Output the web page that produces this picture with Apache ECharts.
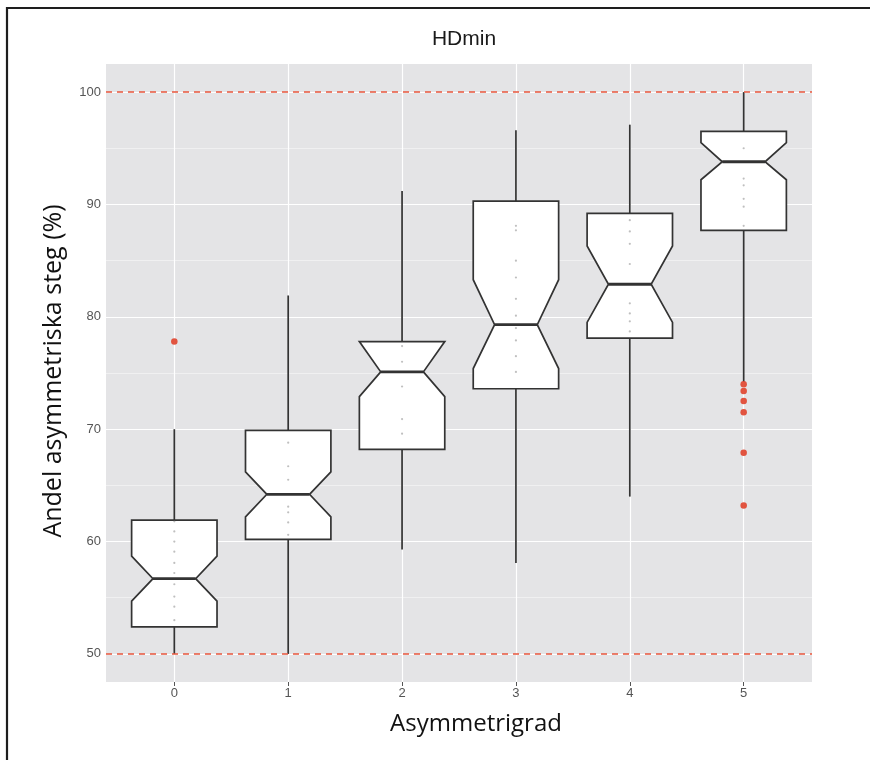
<!DOCTYPE html>
<html>
<head>
<meta charset="utf-8">
<script src="https://cdn.jsdelivr.net/npm/echarts@6/dist/echarts.min.js"></script>
<style>html,body{margin:0;padding:0;background:#fff}#c{width:870px;height:760px}</style>
</head>
<body>
<div id="c"></div>
<script>
// ---- data ----
const categories = ['0', '1', '2', '3', '4', '5'];
const lowerWhisker = [50.0, 50.0, 59.3, 58.1, 64.0, 74.2];
const q1 = [52.4, 60.2, 68.2, 73.6, 78.1, 87.7];
const notchLow = [54.7, 62.2, 72.9, 75.4, 79.5, 92.2];
const median = [56.7, 64.2, 75.1, 79.3, 82.9, 93.8];
const notchHigh = [58.7, 66.2, 77.8, 83.3, 86.3, 95.5];
const q3 = [61.9, 69.9, 77.8, 90.3, 89.2, 96.5];
const upperWhisker = [70.0, 81.9, 91.2, 96.6, 97.1, 100.0];
const outlierCat = [0, 5, 5, 5, 5, 5, 5];
const outlierVal = [77.8, 74.0, 73.4, 72.5, 71.5, 67.9, 63.2];
// faint jittered observations drawn inside the boxes
const innerCat = [0,0,0,0,0,0,0,0,0,0, 1,1,1,1,1,1,1, 2,2,2,2,2, 3,3,3,3,3,3,3,3,3,3, 4,4,4,4,4,4,4,4, 5,5,5,5,5,5];
const innerVal = [61.8,60.9,60.0,59.1,58.1,57.2,56.2,55.1,54.2,53.0,
                  68.8,66.7,65.5,63.1,62.6,61.7,60.6,
                  77.4,76.0,73.8,70.9,69.6,
                  88.1,87.7,85.0,83.5,81.6,80.1,77.9,76.5,75.1,79.0,
                  88.6,87.6,86.5,84.7,81.2,80.3,79.6,78.7,
                  95.0,92.3,91.7,90.5,89.8,88.1];
const yMajorTicks = [50, 60, 70, 80, 90, 100];
const yMinorTicks = [55, 65, 75, 85, 95];
const refLines = [50, 100];
const xTicks = [0, 1, 2, 3, 4, 5];

const boxData = categories.map((c, i) => [i, lowerWhisker[i], q1[i], notchLow[i], median[i], notchHigh[i], q3[i], upperWhisker[i]]);
const outlierData = outlierCat.map((c, i) => [c, outlierVal[i]]);
const innerData = innerCat.map((c, i) => [c, innerVal[i]]);

const chart = echarts.init(document.getElementById('c'), null, {renderer: 'canvas'});

function renderBox(params, api) {
  const x = api.value(0);
  const vLow = api.value(1), vQ1 = api.value(2), vNL = api.value(3), vMed = api.value(4),
        vNH = api.value(5), vQ3 = api.value(6), vHigh = api.value(7);
  const half = api.size([0.75, 0])[0] / 2;
  const inset = half / 2;
  const cx = api.coord([x, vMed])[0];
  const y = v => api.coord([x, v])[1];
  const L = cx - half, R = cx + half;
  const stroke = '#333333';
  return {
    type: 'group',
    children: [
      {type: 'line', shape: {x1: cx, y1: y(vQ3), x2: cx, y2: y(vHigh)}, style: {stroke: stroke, lineWidth: 1.7}},
      {type: 'line', shape: {x1: cx, y1: y(vQ1), x2: cx, y2: y(vLow)}, style: {stroke: stroke, lineWidth: 1.7}},
      {type: 'polygon', shape: {points: [
        [L, y(vQ3)], [R, y(vQ3)], [R, y(vNH)], [R - inset, y(vMed)], [R, y(vNL)], [R, y(vQ1)],
        [L, y(vQ1)], [L, y(vNL)], [L + inset, y(vMed)], [L, y(vNH)]
      ]}, style: {fill: '#ffffff', stroke: stroke, lineWidth: 1.7, lineJoin: 'miter'}},
      {type: 'line', shape: {x1: L + inset, y1: y(vMed), x2: R - inset, y2: y(vMed)}, style: {stroke: stroke, lineWidth: 2.8}}
    ]
  };
}

const gridLines = [];
yMajorTicks.forEach(v => gridLines.push({yAxis: v, lineStyle: {color: '#ffffff', width: 1.2, type: 'solid'}}));
yMinorTicks.forEach(v => gridLines.push({yAxis: v, lineStyle: {color: '#f2f2f4', width: 0.8, type: 'solid'}}));
xTicks.forEach(v => gridLines.push({xAxis: v, lineStyle: {color: '#ffffff', width: 1.2, type: 'solid'}}));

const option = {
  animation: false,
  backgroundColor: '#ffffff',
  title: {
    text: 'HDmin', left: 459, top: 24, textAlign: 'center',
    textStyle: {fontFamily: 'Liberation Sans', fontSize: 21, fontWeight: 'normal', color: '#1a1a1a'}
  },
  grid: {left: 106, right: 58, top: 64, bottom: 78, show: true, backgroundColor: '#e4e4e6', borderWidth: 0},
  xAxis: {
    type: 'value', min: -0.6, max: 5.6,
    axisLine: {show: false},
    axisTick: {show: true, length: 4, lineStyle: {color: '#555555', width: 1}, customValues: xTicks},
    axisLabel: {show: true, customValues: xTicks, formatter: v => categories[Math.round(v)], color: '#555555', fontFamily: 'Liberation Sans', fontSize: 13, margin: 5},
    splitLine: {show: false}
  },
  yAxis: {
    type: 'value', min: 47.5, max: 102.5,
    axisLine: {show: false},
    axisTick: {show: true, length: 4, lineStyle: {color: '#555555', width: 1}, customValues: yMajorTicks},
    axisLabel: {show: true, customValues: yMajorTicks, color: '#555555', fontFamily: 'Liberation Sans', fontSize: 13, margin: 5},
    splitLine: {show: false}
  },
  graphic: [
    {type: 'rect', shape: {x: 7, y: 8, width: 900, height: 800}, style: {fill: 'none', stroke: '#1e1e1e', lineWidth: 2.2}, silent: true},
    {type: 'text', x: 54, y: 371, rotation: Math.PI / 2, style: {text: 'Andel asymmetriska steg (%)', font: '25px "Open Sans"', fill: '#111111', textAlign: 'center', textVerticalAlign: 'middle'}},
    {type: 'text', x: 476, y: 724, style: {text: 'Asymmetrigrad', font: '24px "Open Sans"', fill: '#111111', textAlign: 'center', textVerticalAlign: 'middle'}}
  ],
  series: [
    {
      name: 'grid', type: 'scatter', data: [], z: 1, silent: true,
      markLine: {z: 1, silent: true, symbol: ['none', 'none'], label: {show: false}, animation: false, data: gridLines}
    },
    {
      name: 'boxes', type: 'custom', renderItem: renderBox, data: boxData, z: 3,
      encode: {x: 0, y: [1, 2, 3, 4, 5, 6, 7]}
    },
    {
      name: 'inner', type: 'scatter', data: innerData, z: 4, symbolSize: 2.2, silent: true,
      itemStyle: {color: 'rgba(110,110,110,0.55)'}
    },
    {
      name: 'ref', type: 'scatter', data: [], z: 5, silent: true,
      markLine: {z: 5, silent: true, symbol: ['none', 'none'], label: {show: false}, animation: false,
        data: refLines.map(v => ({yAxis: v})),
        lineStyle: {color: '#e8553c', width: 1.6, type: [6, 5]}}
    },
    {
      name: 'outliers', type: 'scatter', data: outlierData, z: 6, symbolSize: 6.5,
      itemStyle: {color: '#e0432c', opacity: 0.9}
    }
  ]
};
chart.setOption(option);
</script>
</body>
</html>
